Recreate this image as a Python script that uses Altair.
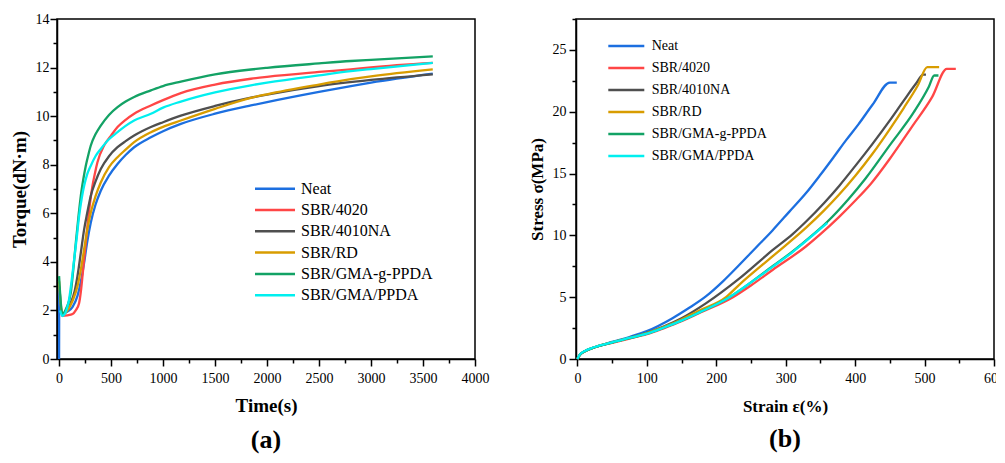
import altair as alt
import pandas as pd

FONT = "Liberation Serif"

series = ["Neat", "SBR/4020", "SBR/4010NA", "SBR/RD", "SBR/GMA-g-PPDA", "SBR/GMA/PPDA"]
colors = ["#1c6fe0", "#ff4646", "#4f4f4f", "#d89c00", "#13a265", "#00efef"]

# ---------- (a) Torque vs time ----------
neat_t = [0, 2, 15, 32, 80, 130, 177, 210, 241, 270, 305, 350, 401, 480, 562, 640, 722, 883, 1000, 1171, 1500, 1845, 2000, 2500, 2806, 3000, 3594]
neat_tq = [0, 3.0, 2.2, 1.85, 1.95, 2.15, 2.6, 3.2, 3.97, 4.8, 5.62, 6.35, 6.93, 7.55, 8.03, 8.4, 8.72, 9.13, 9.38, 9.68, 10.1, 10.44, 10.58, 11.0, 11.24, 11.38, 11.75]

r4020_t = [20, 40, 80, 130, 160, 193, 210, 225, 250, 273, 297, 321, 345, 369, 433, 500, 562, 640, 722, 883, 1000, 1171, 1500, 1845, 2000, 2500, 2806, 3000, 3594]
r4020_tq = [1.8, 1.78, 1.8, 1.85, 2.0, 2.31, 2.8, 3.41, 4.5, 5.48, 6.4, 7.13, 7.65, 8.1, 8.79, 9.2, 9.55, 9.85, 10.1, 10.44, 10.66, 10.95, 11.3, 11.54, 11.62, 11.82, 11.93, 12.01, 12.19]

r4010_t = [20, 32, 70, 113, 150, 177, 210, 241, 270, 305, 350, 401, 480, 562, 640, 722, 883, 1000, 1171, 1500, 1845, 2000, 2500, 3000, 3594]
r4010_tq = [1.95, 1.85, 2.0, 2.31, 2.8, 3.41, 4.4, 5.34, 6.0, 6.72, 7.3, 7.82, 8.35, 8.72, 8.97, 9.2, 9.55, 9.75, 10.02, 10.42, 10.76, 10.89, 11.24, 11.49, 11.72]

rd_t = [0, 15, 32, 80, 130, 177, 210, 241, 270, 305, 350, 401, 480, 562, 640, 722, 883, 1000, 1171, 1500, 1845, 2000, 2500, 2806, 3000, 3594]
rd_tq = [3.2, 2.3, 1.85, 2.0, 2.4, 3.0, 3.7, 4.52, 5.3, 6.03, 6.7, 7.27, 7.9, 8.31, 8.62, 8.93, 9.34, 9.56, 9.82, 10.3, 10.75, 10.9, 11.3, 11.52, 11.64, 11.93]

gmag_t = [0, 15, 32, 70, 113, 137, 161, 185, 209, 233, 257, 281, 305, 350, 401, 480, 562, 640, 722, 883, 1000, 1171, 1500, 1845, 2000, 2500, 2806, 3000, 3594]
gmag_tq = [3.41, 2.4, 1.83, 2.1, 2.73, 3.7, 4.79, 5.8, 6.72, 7.4, 7.96, 8.4, 8.79, 9.25, 9.61, 10.05, 10.37, 10.6, 10.79, 11.06, 11.24, 11.42, 11.72, 11.92, 11.99, 12.17, 12.27, 12.32, 12.46]

gmap_t = [10, 32, 60, 96, 120, 145, 170, 193, 217, 241, 270, 305, 350, 401, 480, 562, 640, 722, 883, 1000, 1171, 1500, 1845, 2000, 2500, 2806, 3000, 3594]
gmap_tq = [2.0, 1.77, 1.9, 2.45, 3.2, 4.1, 5.0, 5.89, 6.6, 7.13, 7.6, 7.96, 8.35, 8.65, 9.05, 9.34, 9.6, 9.82, 10.1, 10.35, 10.6, 10.98, 11.27, 11.38, 11.68, 11.85, 11.94, 12.19]

# ---------- (b) Stress vs strain ----------
neat_s = [0, 3, 10, 25, 50, 75, 100, 137, 160, 185, 210, 233, 257, 281, 305, 329, 350, 370, 387, 405, 425, 450, 460]
neat_sg = [0, 0.3, 0.6, 0.95, 1.38, 1.78, 2.25, 3.3, 4.1, 5.06, 6.3, 7.6, 9.0, 10.4, 11.9, 13.4, 14.9, 16.4, 17.7, 19.0, 20.56, 22.36, 22.36]

r4020_s = [0, 3, 10, 25, 50, 75, 100, 125, 150, 175, 224, 250, 281, 329, 350, 377, 400, 423, 450, 482, 511, 532, 545]
r4020_sg = [0, 0.3, 0.6, 0.95, 1.3, 1.65, 2.0, 2.5, 3.05, 3.7, 5.0, 5.95, 7.2, 9.1, 10.1, 11.5, 12.8, 14.2, 16.2, 18.8, 21.2, 23.47, 23.47]

r4010_s = [0, 3, 10, 25, 50, 75, 100, 125, 150, 185, 233, 281, 310, 329, 355, 377, 400, 425, 450, 470, 488, 498, 502]
r4010_sg = [0, 0.3, 0.6, 0.95, 1.35, 1.72, 2.12, 2.65, 3.3, 4.5, 6.5, 8.8, 10.1, 11.1, 12.6, 14.0, 15.6, 17.4, 19.3, 20.9, 22.3, 23.0, 23.0]

rd_s = [0, 3, 10, 25, 50, 75, 100, 125, 150, 175, 214, 233, 281, 329, 355, 377, 400, 425, 450, 470, 490, 504, 521]
rd_sg = [0, 0.3, 0.6, 0.95, 1.35, 1.7, 2.1, 2.6, 3.2, 3.9, 5.0, 6.0, 8.3, 10.6, 12.0, 13.3, 14.8, 16.6, 18.6, 20.3, 22.1, 23.6, 23.6]

gmag_s = [0, 3, 10, 25, 50, 75, 100, 125, 150, 175, 219, 250, 281, 310, 338, 360, 390, 415, 450, 485, 506, 514, 520]
gmag_sg = [0, 0.3, 0.6, 0.95, 1.33, 1.68, 2.05, 2.55, 3.1, 3.75, 5.0, 6.2, 7.5, 8.7, 10.0, 11.1, 12.9, 14.6, 17.3, 20.0, 22.0, 22.93, 22.93]

gmap_s = [0, 3, 10, 25, 50, 75, 100, 125, 150, 175, 219, 250, 281, 310, 338, 360]
gmap_sg = [0, 0.32, 0.62, 0.97, 1.35, 1.7, 2.05, 2.55, 3.1, 3.75, 5.0, 6.2, 7.45, 8.65, 9.95, 11.0]

time_ticks = list(range(0, 4001, 250))
torque_ticks = list(range(0, 15, 1))
strain_ticks = list(range(0, 601, 50))
stress_ticks = [i * 2.5 for i in range(0, 12)]


def build(pairs, xname, yname):
    rows = []
    for name, (xs, ys) in zip(series, pairs):
        for i, (xv, yv) in enumerate(zip(xs, ys)):
            rows.append({"series": name, xname: xv, yname: yv, "idx": i})
    return pd.DataFrame(rows)


dfa = build([(neat_t, neat_tq), (r4020_t, r4020_tq), (r4010_t, r4010_tq),
             (rd_t, rd_tq), (gmag_t, gmag_tq), (gmap_t, gmap_tq)], "t", "torque")
dfb = build([(neat_s, neat_sg), (r4020_s, r4020_sg), (r4010_s, r4010_sg),
             (rd_s, rd_sg), (gmag_s, gmag_sg), (gmap_s, gmap_sg)], "strain", "stress")


def axis(title, values, major, label_size, title_size, title_pad, label_pad=2):
    test = f"abs(datum.value % {major}) < 1e-6"
    return alt.Axis(
        title=title, values=values, format="d",
        labelExpr=f"{test} ? datum.label : ''",
        tickSize={"condition": {"test": test, "value": 7}, "value": 4},
        labelFontSize=label_size, titleFontSize=title_size, titleFontWeight="bold",
        titlePadding=title_pad, labelPadding=label_pad, labelFlush=False,
        labelOverlap=False, grid=False,
    )


def legend(lx, ly, font_size, sym_len, row_pad, sym_off, lab_off):
    # custom horizontal stroke: length = 4 * sqrt(size)
    s = sym_len / 4.0
    return alt.Legend(
        orient="none", legendX=lx, legendY=ly, title=None,
        symbolType="M-4,0L4,0", symbolSize=s * s, symbolStrokeWidth=2.5,
        symbolOffset=sym_off, labelOffset=lab_off,
        labelFont=FONT, labelFontSize=font_size, labelColor="black",
        rowPadding=row_pad, padding=0,
    )


panel_a = alt.Chart(dfa).mark_line(strokeWidth=2.3, interpolate="monotone").encode(
    x=alt.X("t:Q", scale=alt.Scale(domain=[-20, 4000], nice=False, zero=False),
            axis=axis("Time(s)", time_ticks, 500, 14, 19, 11, 5)),
    y=alt.Y("torque:Q", scale=alt.Scale(domain=[0, 14], nice=False),
            axis=axis("Torque(dN·m)", torque_ticks, 2, 14, 19, 6, 1)),
    color=alt.Color("series:N", scale=alt.Scale(domain=series, range=colors),
                    legend=legend(198, 161.7, 16, 40, 5.3, 12, 18)),
    order=alt.Order("idx:Q"),
    detail="series:N",
).properties(
    width=418, height=340,
    title=alt.TitleParams("(a)", orient="bottom", fontSize=26, fontWeight="bold",
                          font=FONT, color="black", offset=12),
)

panel_b = alt.Chart(dfb).mark_line(strokeWidth=2.3, interpolate="monotone").encode(
    x=alt.X("strain:Q", scale=alt.Scale(domain=[-2, 600], nice=False, zero=False),
            axis=axis("Strain ε(%)", strain_ticks, 100, 14, 17, 13, 5)),
    y=alt.Y("stress:Q", scale=alt.Scale(domain=[0, 27.5], nice=False),
            axis=axis("Stress σ(MPa)", stress_ticks, 5, 14, 17, 6, 3)),
    color=alt.Color("series:N", scale=alt.Scale(domain=series, range=colors),
                    legend=legend(32.3, 20, 14, 36, 8, 11, 18.4)),
    order=alt.Order("idx:Q"),
    detail="series:N",
).properties(
    width=418, height=340,
    title=alt.TitleParams("(b)", orient="bottom", fontSize=26, fontWeight="bold",
                          font=FONT, color="black", offset=12),
)

chart = alt.hconcat(panel_a, panel_b, spacing=37).resolve_scale(
    color="independent"
).properties(
    padding={"left": 1, "top": 3, "right": -10, "bottom": 0},
    background="white",
).configure_view(
    stroke="black", strokeWidth=1.5,
).configure_axis(
    domainColor="black", domainWidth=1.5, tickColor="black", tickWidth=1.5,
    labelFont=FONT, titleFont=FONT, labelColor="black", titleColor="black",
)

chart.save("out.html", embed_options={"renderer": "svg", "actions": False})
